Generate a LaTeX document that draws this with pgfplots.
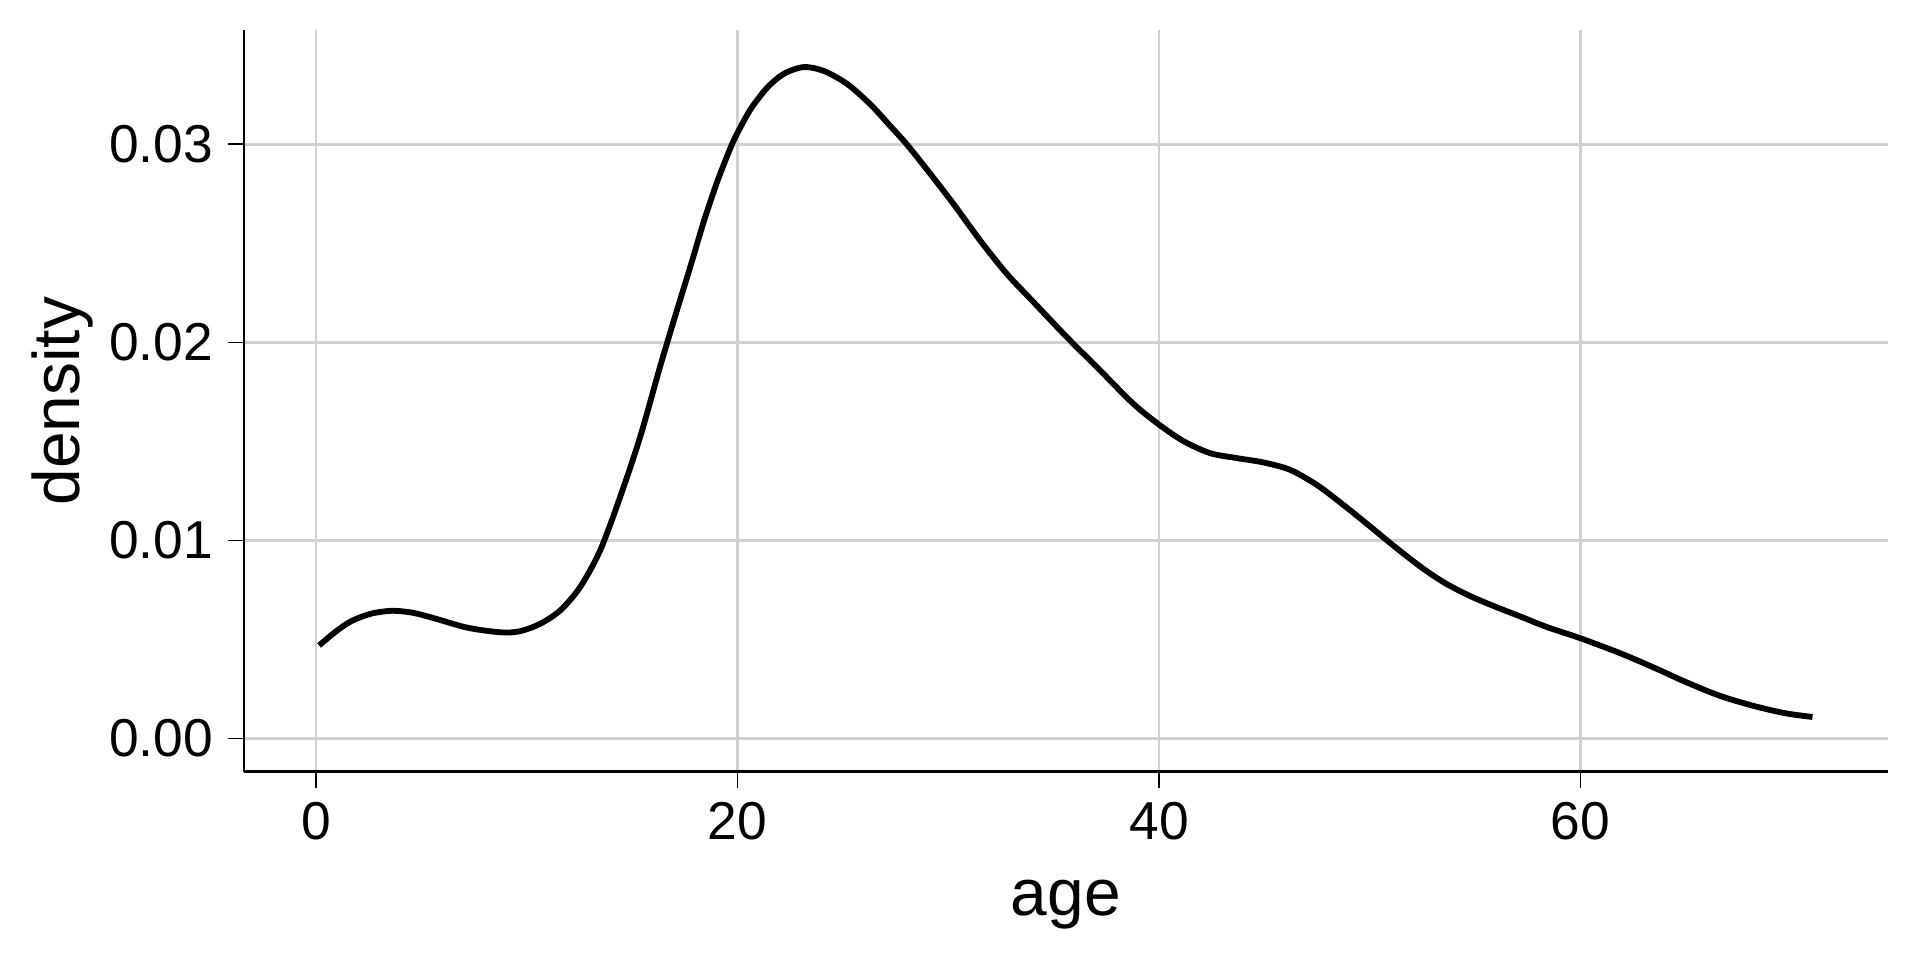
\documentclass[border=0pt]{standalone}
\usepackage{fontspec}
\setmainfont{Liberation Sans}
\usepackage{pgfplots}
\pgfplotsset{compat=1.18}
\definecolor{gridgray}{RGB}{208,208,208}

% kernel density of age
\pgfplotstableread{
x y
0.15 0.00470
1.0 0.00545
1.7 0.00594
2.6 0.00630
3.6 0.00645
4.6 0.00635
5.65 0.00606
7.22 0.00559
8.8 0.00536
9.68 0.00542
10.63 0.00579
11.58 0.00646
12.53 0.00764
13.48 0.00949
14.43 0.01219
15.38 0.01522
16.32 0.01875
16.98 0.02111
17.77 0.02385
18.40 0.02610
19.04 0.02812
19.67 0.02983
20.00 0.03058
20.62 0.03177
21.41 0.03286
22.20 0.03356
23.15 0.03390
24.10 0.03370
25.20 0.03305
26.30 0.03202
27.20 0.03098
28.03 0.03000
29.14 0.02852
30.24 0.02700
31.51 0.02515
32.77 0.02347
34.04 0.02204
35.62 0.02027
37.20 0.01859
38.78 0.01690
40.00 0.01585
41.15 0.01502
42.42 0.01441
43.68 0.01416
44.95 0.01394
46.21 0.01357
47.48 0.01281
48.74 0.01180
50.01 0.01071
51.27 0.00961
52.54 0.00857
53.60 0.00783
54.75 0.00720
55.90 0.00668
57.10 0.00618
58.40 0.00563
60.00 0.00506
61.85 0.00432
63.40 0.00362
65.00 0.00285
66.60 0.00216
68.20 0.00165
69.70 0.00128
71.00 0.00109
}\kde

\begin{document}
\begin{tikzpicture}
\begin{axis}[
  name=ax,
  scale only axis,
  width=394.6pt, height=177.9pt,
  xmin=-3.425, xmax=74.58,
  ymin=-0.001672, ymax=0.03575,
  axis x line*=bottom, axis y line*=left,
  axis line style={line width=0.6pt},
  xtick={0,20,40,60},
  ytick={0,0.01,0.02,0.03},
  minor tick num=0,
  scaled y ticks=false,
  /pgf/number format/assume math mode=true,
  yticklabel style={/pgf/number format/fixed, /pgf/number format/fixed zerofill, /pgf/number format/precision=2},
  tick align=outside,
  major tick length=3.84pt,
  tick style={black, line width=0.4pt},
  grid=major,
  major grid style={gridgray, line width=0.6pt},
  tick label style={font=\fontsize{12.8}{15}\selectfont},
  label style={font=\fontsize{15.8}{18}\selectfont},
  xlabel={age},
  ylabel={density},
  xlabel style={at={([yshift=-34.4pt]axis description cs:0.5,0)}, anchor=base, inner sep=0pt},
  ylabel style={at={([xshift=-39.5pt]axis description cs:0,0.5)}, rotate=0, anchor=base, inner sep=0pt},
]
\addplot[black, line width=1.4pt, smooth] table[x=x, y=y] {\kde};
\end{axis}
\path ([shift={(-58.5pt,-45.2pt)}]ax.south west) rectangle ([shift={(7.7pt,7.3pt)}]ax.north east);
\end{tikzpicture}
\end{document}
